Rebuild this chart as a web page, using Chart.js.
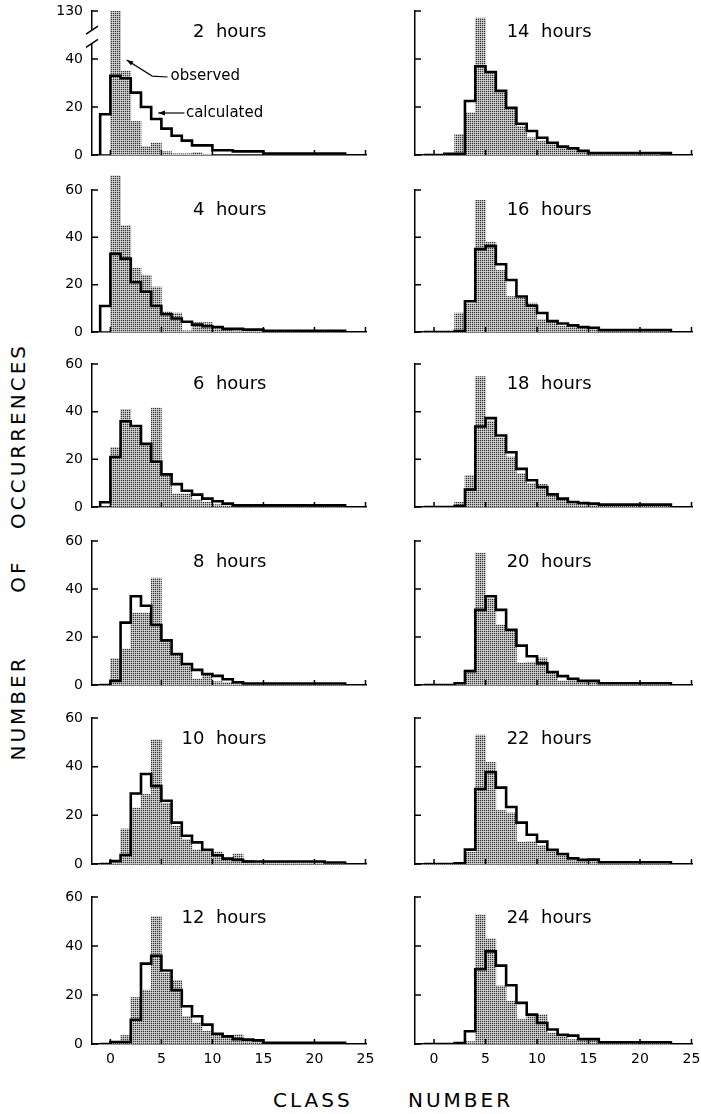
<!DOCTYPE html>
<html>
<head>
<meta charset="utf-8">
<script src="https://cdn.jsdelivr.net/npm/chart.js@4.4.1/dist/chart.umd.min.js"></script>
<style>
  body { margin: 0; background: #fff; }
  #page { position: relative; width: 701px; height: 1114px; overflow: hidden; font-family: "DejaVu Sans", sans-serif; }
  canvas { position: absolute; }
  .lbl { position: absolute; font-size: 20px; letter-spacing: 3px; line-height: 20px; color: #000; white-space: nowrap; }
  .rot { transform: translate(-50%, -50%) rotate(-90deg); }
</style>
</head>
<body>
<div id="page">
  <div class="lbl" style="left:273px;top:1090px">CLASS</div>
  <div class="lbl" style="left:408px;top:1090px">NUMBER</div>
  <div class="lbl rot" style="left:18px;top:708px">NUMBER</div>
  <div class="lbl rot" style="left:18px;top:576px">OF</div>
  <div class="lbl rot" style="left:18px;top:436px">OCCURRENCES</div>
</div>
<script>
// class bins run from k to k+1
const classes = [-1, 0, 1, 2, 3, 4, 5, 6, 7, 8, 9, 10, 11, 12, 13, 14, 15, 16, 17, 18, 19, 20, 21, 22];
const hours = [2, 4, 6, 8, 10, 12, 14, 16, 18, 20, 22, 24];
const yTicks = [0, 20, 40, 60];
const xTicks = [0, 5, 10, 15, 20, 25];

const obs2h  = [0, 130, 35, 14, 3.5, 5, 1.4, 0.5, 0.5, 1, 0.3, 0, 0, 0, 0, 0, 0, 0, 0, 0, 0, 0, 0, 0];
const calc2h = [17, 33, 32, 26, 20, 15, 11, 8, 6, 4, 4, 2, 2, 1.5, 1.5, 1.5, 0.6, 0.6, 0.6, 0.6, 0.6, 0.6, 0.6, 0.6];
const obs4h  = [0, 66, 45, 27, 24, 19, 8.5, 8, 0.5, 4, 4, 1.5, 1, 0.5, 0.5, 0.3, 0.3, 0.3, 0.3, 0.3, 0.3, 0.3, 0.3, 0];
const calc4h = [11, 33, 31, 21, 17, 11, 7.5, 5.7, 4.3, 3.1, 2.4, 2.1, 1.3, 1.3, 1, 1, 0.5, 0.5, 0.5, 0.5, 0.5, 0.5, 0.5, 0.5];
const obs6h  = [0, 25, 41, 33, 26, 41.5, 14, 5.5, 5.5, 3, 2, 1, 0.5, 0.5, 0.3, 0.3, 0.3, 0.3, 0.3, 0.3, 0.3, 0.3, 0.3, 0.3];
const calc6h = [2, 21, 36, 34, 26.5, 19, 13.7, 9.6, 6.8, 5.2, 3.5, 2.4, 1.4, 0.7, 0.7, 0.7, 0.7, 0.7, 0.7, 0.7, 0.7, 0.7, 0.7, 0.7];
const obs8h  = [0, 11, 15, 30, 30, 44.5, 19, 12.6, 7.7, 2.5, 4.2, 1.4, 1, 0.3, 0.3, 0.3, 0.3, 0.3, 0.3, 0.3, 0.3, 0.3, 0.3, 0.3];
const calc8h = [0, 1.7, 26, 37, 33, 25, 18.6, 12.9, 8.7, 6.3, 4.6, 3.8, 2.4, 1.1, 0.6, 0.6, 0.6, 0.6, 0.6, 0.6, 0.6, 0.6, 0.6, 0.6];
const obs10h  = [0, 0.5, 14.4, 23, 28.6, 51, 25, 15.5, 10, 5.8, 4.7, 5, 2.4, 4.1, 1.5, 0.5, 0.5, 0.5, 0.5, 0.5, 0.5, 0.5, 0.5, 0.5];
const calc10h = [0, 1.2, 3.7, 29, 37, 32, 26, 17, 11.6, 8.9, 5.8, 3.6, 2.2, 1.7, 1, 1, 1, 1, 1, 1, 1, 1, 0.6, 0.6];
const obs12h  = [0, 0.8, 3.5, 19, 22, 52, 29, 26, 11.3, 8.6, 5.2, 4.2, 3.4, 3.8, 1, 1, 0.3, 0.3, 0.3, 0.3, 0.3, 0.3, 0.3, 0.3];
const calc12h = [0, 0.8, 0.8, 9.9, 32.8, 36, 30, 22, 15.4, 11.3, 7.9, 4.2, 3.1, 2, 1.8, 1.5, 0.5, 0.5, 0.5, 0.5, 0.5, 0.5, 0.5, 0.5];
const obs14h  = [0, 0, 0.5, 8.6, 17.6, 57, 34, 26, 19, 12, 7.2, 5.8, 4.4, 3, 2.4, 1.5, 0.5, 0.5, 0.5, 0.5, 0.5, 1, 0.5, 0];
const calc14h = [0, 0, 0.5, 0.5, 22.5, 37, 34.6, 26.7, 19.7, 13, 10, 7.2, 5.1, 3.5, 2.8, 1.7, 0.8, 0.8, 0.8, 0.8, 0.8, 0.8, 0.8, 0.8];
const obs16h  = [0, 0, 0, 8, 12, 55.6, 38, 26, 15, 14.3, 12.2, 5.3, 4.6, 2.5, 2.5, 1.8, 1.5, 0.8, 0.8, 0.8, 0.8, 0.8, 0.8, 0.8];
const calc16h = [0, 0, 0, 0.4, 13, 35, 36.3, 28.6, 22, 15, 11.1, 8, 4.6, 3.6, 2.8, 2.1, 1.8, 0.8, 0.8, 0.8, 0.8, 0.8, 0.8, 0.8];
const obs18h  = [0, 0, 0, 2, 13.3, 54.7, 36, 29, 21, 14, 9.8, 9.5, 4.9, 2.8, 2, 2, 1, 0.7, 0.7, 0.7, 0.7, 0.7, 0.7, 0.7];
const calc18h = [0, 0, 0, 0.4, 7.3, 33.8, 37.3, 30, 23, 16, 11.2, 8.4, 5.3, 3.5, 2.1, 1.7, 1.4, 1, 1, 1, 1, 1, 1, 1];
const obs20h  = [0, 0, 0, 1, 6.2, 55, 36, 25, 23, 9.2, 9.5, 11.3, 5.1, 1.7, 2.3, 1.5, 1.5, 0.7, 0.7, 0.7, 0.7, 0.7, 0.7, 0.7];
const calc20h = [0, 0, 0, 0.7, 5.8, 31.3, 37, 31.3, 23, 16.4, 12, 9, 5.4, 3.7, 2.6, 1.7, 1.7, 0.7, 0.7, 0.7, 0.7, 0.7, 0.7, 0.7];
const obs22h  = [0, 0, 0, 0.3, 4.8, 53, 41.8, 22, 21, 9, 9.2, 7.6, 4.8, 4.1, 1.4, 1.4, 1.5, 0.8, 0.8, 0.8, 0.8, 0.8, 0.8, 0.8];
const calc22h = [0, 0, 0, 0.3, 5.9, 30.8, 37.7, 31.4, 23.4, 17, 12, 9.2, 5.8, 4.1, 2.3, 1.7, 1.8, 0.7, 0.7, 0.7, 0.7, 0.7, 0.7, 0.7];
const obs24h  = [0, 0, 0, 0.5, 1, 52.7, 42.9, 23.7, 17.5, 10, 11.4, 12, 4.5, 3.2, 1.8, 1.5, 2, 0.8, 0.8, 0.8, 0.8, 0.8, 0.8, 0.8];
const calc24h = [0, 0, 0, 0.4, 5.2, 30.5, 37.8, 32, 24, 16.8, 12, 8.6, 5.9, 3.8, 3.4, 2, 2, 0.7, 0.7, 0.7, 0.7, 0.7, 0.7, 0.7];

const observed = [obs2h, obs4h, obs6h, obs8h, obs10h, obs12h, obs14h, obs16h, obs18h, obs20h, obs22h, obs24h];
const calculated = [calc2h, calc4h, calc6h, calc8h, calc10h, calc12h, calc14h, calc16h, calc18h, calc20h, calc22h, calc24h];

// page geometry of each panel's plot area
const cols = [
  { left: 92, right: 366, min: -1.8, max: 25.05 },
  { left: 415, right: 692, min: -1.85, max: 25.05 },
];
const rowTop = [11, 190, 364, 541, 718, 897];
const rowBase = [155, 332, 507, 685, 864, 1044];

Chart.defaults.font.family = '"DejaVu Sans", sans-serif';
Chart.defaults.font.size = 14;
Chart.defaults.color = "#000";

function stipple() {
  const c = document.createElement("canvas");
  c.width = 2;
  c.height = 2;
  const g = c.getContext("2d");
  g.fillStyle = "#b2b2b2";
  g.fillRect(0, 0, 2, 2);
  g.fillStyle = "#333";
  g.fillRect(0, 0, 1, 1);
  g.fillStyle = "#dadada";
  g.fillRect(1, 1, 1, 1);
  return g.createPattern(c, "repeat");
}
const dots = stipple();

function arrow(ctx, pts) {
  ctx.beginPath();
  ctx.moveTo(pts[0][0], pts[0][1]);
  pts.slice(1).forEach((p) => ctx.lineTo(p[0], p[1]));
  ctx.stroke();
  const [a, b] = pts.slice(-2);
  const ang = Math.atan2(b[1] - a[1], b[0] - a[0]);
  ctx.beginPath();
  ctx.moveTo(b[0], b[1]);
  ctx.lineTo(b[0] - 7 * Math.cos(ang - 0.35), b[1] - 7 * Math.sin(ang - 0.35));
  ctx.lineTo(b[0] - 7 * Math.cos(ang + 0.35), b[1] - 7 * Math.sin(ang + 0.35));
  ctx.closePath();
  ctx.fill();
}

const panelDecor = {
  id: "panelDecor",
  afterDatasetsDraw(chart, args, opts) {
    const { ctx, chartArea: a, scales: { x, y } } = chart;
    ctx.save();
    ctx.strokeStyle = "#000";
    ctx.fillStyle = "#000";
    ctx.lineWidth = 1.5;
    // inward tick marks
    ctx.beginPath();
    yTicks.forEach((v) => {
      const py = y.getPixelForValue(v);
      ctx.moveTo(a.left, py);
      ctx.lineTo(a.left + 6, py);
    });
    xTicks.forEach((v) => {
      const px = x.getPixelForValue(v);
      ctx.moveTo(px, a.bottom);
      ctx.lineTo(px, a.bottom - 5);
    });
    ctx.stroke();

    ctx.font = '18px "DejaVu Sans"';
    ctx.textAlign = "right";
    ctx.textBaseline = "middle";
    ctx.fillText(opts.title, x.getPixelForValue(15.3), y.getPixelForValue(51.3));

    if (opts.broken) {
      const y1 = y.getPixelForValue(52);
      const y2 = y.getPixelForValue(46.5);
      ctx.fillStyle = "#fff";
      ctx.fillRect(a.left - 3, y1, 6, y2 - y1);
      ctx.fillStyle = "#000";
      ctx.beginPath();
      [y1, y2].forEach((py) => {
        ctx.moveTo(a.left - 6, py + 4);
        ctx.lineTo(a.left + 6, py - 4);
      });
      ctx.stroke();
    }

    if (opts.notes) {
      const p = (vx, vy) => [x.getPixelForValue(vx), y.getPixelForValue(vy)];
      ctx.font = '15px "DejaVu Sans"';
      ctx.textAlign = "left";
      ctx.fillText("observed", ...p(5.9, 33));
      ctx.fillText("calculated", ...p(7.4, 17.5));
      ctx.lineWidth = 1.2;
      arrow(ctx, [p(5.6, 32.5), p(4.1, 32.9), p(1.6, 39.6)]);
      arrow(ctx, [p(7.25, 17.5), p(4.7, 17.5)]);
    }
    ctx.restore();
  },
};

const page = document.getElementById("page");

hours.forEach((h, i) => {
  const col = cols[Math.floor(i / 6)];
  const row = i % 6;
  const bottomRow = row === 5;
  const leftCol = i < 6;
  const padTop = 22;
  const yW = 45;
  const xH = bottomRow ? 34 : 22;
  const padRight = 22;

  const canvas = document.createElement("canvas");
  canvas.width = yW + (col.right - col.left) + padRight;
  canvas.height = padTop + (rowBase[row] - rowTop[row]) + xH;
  canvas.style.left = col.left - yW + "px";
  canvas.style.top = rowTop[row] - padTop + "px";
  page.appendChild(canvas);

  const obs = observed[i];
  const calc = calculated[i];
  const stepPts = [{ x: classes[0], y: 0 }]
    .concat(classes.map((c, k) => ({ x: c, y: calc[k] })))
    .concat([{ x: classes[classes.length - 1] + 1, y: 0 }]);

  new Chart(canvas, {
    type: "bar",
    data: {
      datasets: [
        {
          type: "bar",
          label: "observed",
          data: classes.map((c, k) => ({ x: c + 0.5, y: obs[k] })),
          backgroundColor: dots,
          borderWidth: 0,
          barPercentage: 1,
          categoryPercentage: 1,
          clip: h === 2 ? undefined : false,
          order: 2,
        },
        {
          type: "line",
          label: "calculated",
          data: stepPts,
          stepped: "before",
          borderColor: "#000",
          borderWidth: 2.6,
          borderJoinStyle: "miter",
          pointRadius: 0,
          fill: false,
          order: 1,
        },
      ],
    },
    options: {
      responsive: false,
      animation: false,
      events: [],
      layout: { padding: { top: padTop, right: padRight, bottom: 0, left: 0 } },
      scales: {
        x: {
          type: "linear",
          offset: false,
          min: col.min,
          max: col.max,
          afterBuildTicks: (s) => {
            s.ticks = xTicks.map((v) => ({ value: v }));
          },
          afterFit: (s) => {
            s.height = xH;
          },
          grid: { display: false, drawTicks: false },
          border: { display: true, color: "#000", width: 1.5 },
          ticks: { display: bottomRow, autoSkip: false, maxRotation: 0, padding: 7 },
        },
        y: {
          min: 0,
          max: 60,
          afterBuildTicks: (s) => {
            s.ticks = yTicks.map((v) => ({ value: v }));
          },
          afterFit: (s) => {
            s.width = yW;
          },
          grid: { display: false, drawTicks: false },
          border: { display: true, color: "#000", width: 1.5 },
          ticks: {
            display: leftCol,
            padding: 9,
            callback: (v) => (h === 2 && v === 60 ? "130" : v),
          },
        },
      },
      plugins: {
        legend: { display: false },
        tooltip: { enabled: false },
        panelDecor: { title: h + "  hours", broken: h === 2, notes: h === 2 },
      },
    },
    plugins: [panelDecor],
  });
});
</script>
</body>
</html>
